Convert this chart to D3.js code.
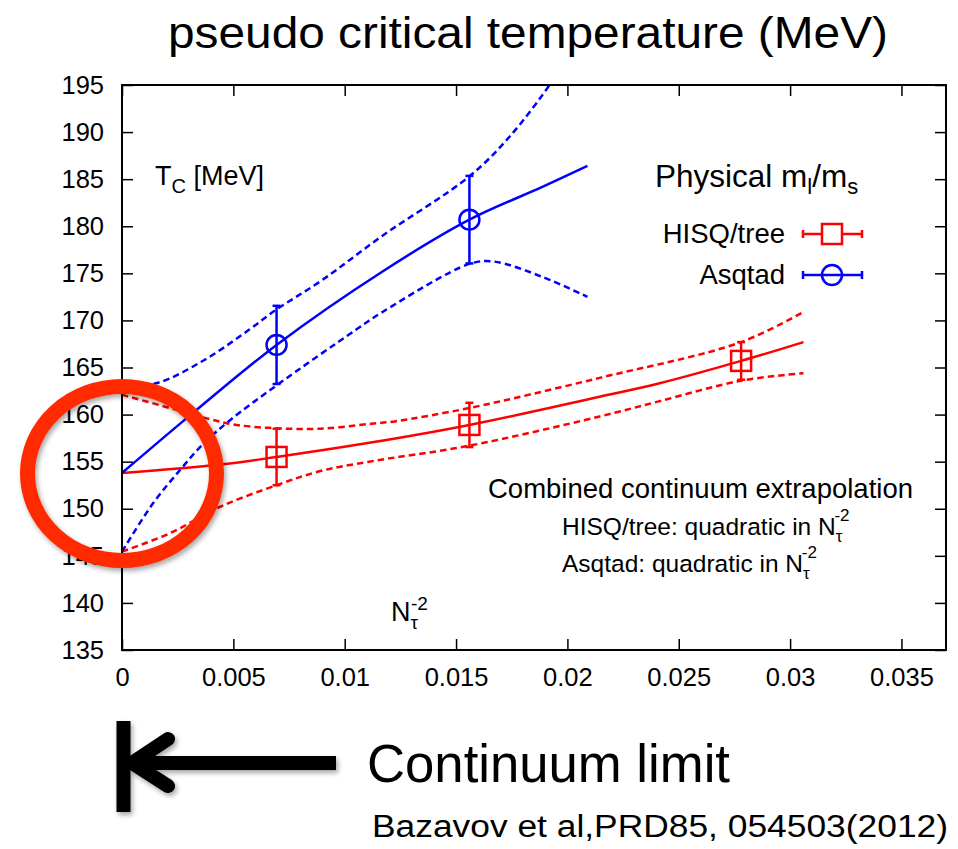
<!DOCTYPE html>
<html>
<head>
<meta charset="utf-8">
<title>pseudo critical temperature</title>
<script src="https://cdn.jsdelivr.net/npm/d3@7"></script>
<style>
    body { margin: 0; background: #fff; }
    svg text { font-family: "Liberation Sans", Arial, Helvetica, sans-serif; fill: #000; }
</style>
</head>
<body>
<script>
    // axes
    var xTicks = [0, 0.005, 0.01, 0.015, 0.02, 0.025, 0.03, 0.035];
    var xTickLabels = ["0", "0.005", "0.01", "0.015", "0.02", "0.025", "0.03", "0.035"];
    var yTicks = [135, 140, 145, 150, 155, 160, 165, 170, 175, 180, 185, 190, 195];

    // data points (N_tau^-2, Tc, error)
    var hisqX = [0.00694, 0.0156, 0.0278];
    var hisqT = [155.5, 158.9, 165.7];
    var hisqErr = [3.0, 2.35, 2.0];
    var asqX = [0.00694, 0.0156];
    var asqT = [167.4, 180.7];
    var asqErr = [4.15, 4.65];

    // fit curves
    var hisqFit = [[0, 153.8], [0.0044, 154.7], [0.00694, 155.5], [0.0111, 157.0], [0.0156, 158.9],
                   [0.02145, 161.9], [0.0241, 163.3], [0.0278, 165.7], [0.0306, 167.7]];
    var hisqUp = [[0, 162.1], [0.00215, 160.7], [0.0038, 159.6], [0.00515, 158.9], [0.00694, 158.55],
                  [0.0089, 158.5], [0.0111, 159.0], [0.0123, 159.3], [0.0156, 160.7], [0.02145, 163.9],
                  [0.0278, 167.7], [0.0306, 170.9]];
    var hisqLo = [[0, 145.45], [0.00215, 147.4], [0.0044, 150.2], [0.00694, 152.5], [0.0089, 154.0],
                  [0.0111, 155.0], [0.0156, 156.7], [0.02145, 159.8], [0.0241, 161.4], [0.0278, 163.6],
                  [0.0306, 164.4]];
    var asqFit = [[0, 153.8], [0.00335, 160.5], [0.00694, 167.4], [0.0117, 175.2], [0.0156, 180.7],
                  [0.0189, 184.2], [0.0209, 186.4]];
    var asqUp = [[0, 162.9], [0.00165, 163.4], [0.0037, 165.8], [0.0057, 169.0], [0.0069, 171.1],
                 [0.009, 174.3], [0.0117, 179.0], [0.0156, 185.3], [0.0174, 189.5], [0.0192, 195.0],
                 [0.0196, 196.5]];
    var asqLo = [[0, 145.45], [0.0014, 150.6], [0.0026, 154.1], [0.00365, 156.9], [0.00485, 159.4],
                 [0.00694, 163.1], [0.0105, 169.0], [0.0117, 170.9], [0.0156, 176.0], [0.0167, 176.25],
                 [0.0189, 174.6], [0.0209, 172.5]];

    var legendNames = ["HISQ/tree", "Asqtad"];
    var red = "#ff0000", blue = "#0000ff";

    var width = 958, height = 849;
    var svg = d3.select("body").append("svg")
        .attr("width", width)
        .attr("height", height);

    var x = d3.scaleLinear().domain([0, 0.037]).range([122, 946]);
    var y = d3.scaleLinear().domain([135, 195]).range([650, 85]);

    var defs = svg.append("defs");
    defs.append("clipPath").attr("id", "plotclip")
        .append("rect")
        .attr("x", x(0)).attr("y", y(195))
        .attr("width", x(0.037) - x(0)).attr("height", y(135) - y(195));
    var shadow = defs.append("filter").attr("id", "shadow")
        .attr("x", "-20%").attr("y", "-20%").attr("width", "140%").attr("height", "140%");
    shadow.append("feDropShadow")
        .attr("dx", 2).attr("dy", 3).attr("stdDeviation", 2.5)
        .attr("flood-color", "#000").attr("flood-opacity", 0.35);

    // title
    svg.append("text")
        .attr("x", 168).attr("y", 48)
        .attr("textLength", 720).attr("lengthAdjust", "spacingAndGlyphs")
        .style("font-size", "45px")
        .text("pseudo critical temperature (MeV)");

    // axes, ticks inwards
    function styleAxis(g) {
        g.select(".domain").remove();
        g.selectAll(".tick line").attr("stroke", "#000").attr("stroke-width", 1.5);
        g.selectAll(".tick text").style("font-size", "25.5px").attr("fill", "#000");
    }
    svg.append("g").attr("transform", "translate(0," + y(135) + ")")
        .call(d3.axisBottom(x).tickValues(xTicks).tickFormat((d, i) => xTickLabels[i])
            .tickSizeInner(-11).tickSizeOuter(0).tickPadding(18))
        .call(styleAxis);
    svg.append("g").attr("transform", "translate(0," + y(195) + ")")
        .call(d3.axisTop(x).tickValues(xTicks).tickFormat("")
            .tickSizeInner(-11).tickSizeOuter(0))
        .call(styleAxis);
    svg.append("g").attr("transform", "translate(" + x(0) + ",0)")
        .call(d3.axisLeft(y).tickValues(yTicks).tickFormat(d3.format("d"))
            .tickSizeInner(-11).tickSizeOuter(0).tickPadding(18))
        .call(styleAxis);
    svg.append("g").attr("transform", "translate(" + x(0.037) + ",0)")
        .call(d3.axisRight(y).tickValues(yTicks).tickFormat("")
            .tickSizeInner(-11).tickSizeOuter(0))
        .call(styleAxis);

    // curves
    var line = d3.line()
        .x(d => x(d[0]))
        .y(d => y(d[1]))
        .curve(d3.curveCatmullRom.alpha(0.5));
    var plot = svg.append("g").attr("clip-path", "url(#plotclip)");
    var curves = [
        { pts: hisqUp, color: red, dash: "6.5,4" },
        { pts: hisqLo, color: red, dash: "6.5,4" },
        { pts: hisqFit, color: red, dash: null },
        { pts: asqUp, color: blue, dash: "6.5,4" },
        { pts: asqLo, color: blue, dash: "6.5,4" },
        { pts: asqFit, color: blue, dash: null }
    ];
    plot.selectAll(".fit")
        .data(curves)
        .enter()
        .append("path")
        .attr("class", "fit")
        .attr("d", d => line(d.pts))
        .attr("fill", "none")
        .attr("stroke", d => d.color)
        .attr("stroke-width", 2.5)
        .attr("stroke-dasharray", d => d.dash);

    // error bars
    var hisq = hisqX.map((v, i) => ({ x: v, t: hisqT[i], e: hisqErr[i] }));
    var asq = asqX.map((v, i) => ({ x: v, t: asqT[i], e: asqErr[i] }));
    function errorBars(data, color) {
        var g = svg.append("g").attr("stroke", color).attr("stroke-width", 2.5).attr("fill", "none");
        g.selectAll(".bar").data(data).enter().append("line")
            .attr("x1", d => x(d.x)).attr("x2", d => x(d.x))
            .attr("y1", d => y(d.t - d.e)).attr("y2", d => y(d.t + d.e));
        g.selectAll(".capt").data(data).enter().append("line")
            .attr("x1", d => x(d.x) - 4).attr("x2", d => x(d.x) + 4)
            .attr("y1", d => y(d.t + d.e)).attr("y2", d => y(d.t + d.e));
        g.selectAll(".capb").data(data).enter().append("line")
            .attr("x1", d => x(d.x) - 4).attr("x2", d => x(d.x) + 4)
            .attr("y1", d => y(d.t - d.e)).attr("y2", d => y(d.t - d.e));
        return g;
    }
    errorBars(hisq, red).selectAll(".sq").data(hisq).enter().append("rect")
        .attr("x", d => x(d.x) - 10).attr("y", d => y(d.t) - 10)
        .attr("width", 20).attr("height", 20);
    errorBars(asq, blue).selectAll(".ci").data(asq).enter().append("circle")
        .attr("cx", d => x(d.x)).attr("cy", d => y(d.t)).attr("r", 10);

    // frame
    svg.append("rect")
        .attr("x", x(0)).attr("y", y(195))
        .attr("width", x(0.037) - x(0)).attr("height", y(135) - y(195))
        .attr("fill", "none").attr("stroke", "#000").attr("stroke-width", 2);

    // labels inside plot
    var tc = svg.append("text").attr("x", 155).attr("y", 185).style("font-size", "27px");
    tc.append("tspan").text("T");
    tc.append("tspan").attr("dy", 8).style("font-size", "20px").text("C");
    tc.append("tspan").attr("dy", -8).text(" [MeV]");

    var nt = svg.append("text").attr("x", 391).attr("y", 621).style("font-size", "27px");
    nt.append("tspan").text("N");
    nt.append("tspan").attr("dy", 8).style("font-size", "19px").text("τ");
    nt.append("tspan").attr("x", 411).attr("dy", -19).style("font-size", "19px").text("-2");

    var phys = svg.append("text").attr("x", 655).attr("y", 187).style("font-size", "31.5px");
    phys.append("tspan").text("Physical m");
    phys.append("tspan").attr("dy", 7).style("font-size", "22px").text("l");
    phys.append("tspan").attr("dy", -7).text("/m");
    phys.append("tspan").attr("dy", 7).style("font-size", "22px").text("s");

    // legend
    var legend = svg.selectAll(".legend")
        .data(legendNames)
        .enter()
        .append("g")
        .attr("class", "legend")
        .attr("transform", (d, i) => "translate(0," + (234 + i * 41) + ")");
    legend.append("text")
        .attr("x", 785).attr("y", 9)
        .attr("text-anchor", "end")
        .style("font-size", "27.5px")
        .text(d => d);
    legend.each(function (d, i) {
        var g = d3.select(this).append("g")
            .attr("stroke", i === 0 ? red : blue)
            .attr("stroke-width", 2.5).attr("fill", "none");
        g.append("line").attr("x1", 803).attr("x2", 862).attr("y1", 0).attr("y2", 0);
        g.append("line").attr("x1", 803).attr("x2", 803).attr("y1", -4).attr("y2", 4);
        g.append("line").attr("x1", 862).attr("x2", 862).attr("y1", -4).attr("y2", 4);
        if (i === 0) {
            g.append("rect").attr("x", 822).attr("y", -10).attr("width", 20).attr("height", 20).attr("fill", "#fff");
        } else {
            g.append("circle").attr("cx", 832).attr("cy", 0).attr("r", 10);
        }
    });

    // extrapolation note
    svg.append("text").attr("x", 488).attr("y", 498)
        .style("font-size", "27.5px")
        .text("Combined continuum extrapolation");
    var notes = ["HISQ/tree: quadratic in N", "Asqtad: quadratic in N"];
    notes.forEach(function (s, i) {
        var t = svg.append("text").attr("x", 562).attr("y", 535 + i * 37).style("font-size", "24.5px");
        t.append("tspan").text(s);
        t.append("tspan").attr("dy", 7).style("font-size", "17px").text("τ");
        t.append("tspan").attr("dx", -8).attr("dy", -21).style("font-size", "17px").text("-2");
    });

    // red circle around continuum value
    svg.append("ellipse")
        .attr("cx", x(0)).attr("cy", y(153.75))
        .attr("rx", 94.5).attr("ry", 87)
        .attr("fill", "none")
        .attr("stroke", "#ff2a00")
        .attr("stroke-width", 15)
        .attr("filter", "url(#shadow)");

    // continuum limit arrow
    var arrow = svg.append("g")
        .attr("stroke", "#000").attr("stroke-width", 14)
        .attr("stroke-linecap", "round").attr("fill", "none")
        .attr("filter", "url(#shadow)");
    arrow.append("line").attr("x1", x(0) + 1.5).attr("x2", x(0) + 1.5).attr("y1", 721).attr("y2", 812)
        .attr("stroke-linecap", "butt");
    arrow.append("line").attr("x1", x(0) + 6).attr("x2", 336).attr("y1", 763).attr("y2", 763)
        .attr("stroke-linecap", "butt");
    arrow.append("polyline")
        .attr("points", "168,739 132,763 168,786")
        .attr("stroke-linejoin", "miter");

    svg.append("text").attr("x", 367).attr("y", 782)
        .attr("textLength", 363).attr("lengthAdjust", "spacingAndGlyphs")
        .style("font-size", "53px")
        .text("Continuum limit");
    svg.append("text").attr("x", 372).attr("y", 837)
        .attr("textLength", 576).attr("lengthAdjust", "spacingAndGlyphs")
        .style("font-size", "31px")
        .text("Bazavov et al,PRD85, 054503(2012)");
</script>
</body>
</html>
